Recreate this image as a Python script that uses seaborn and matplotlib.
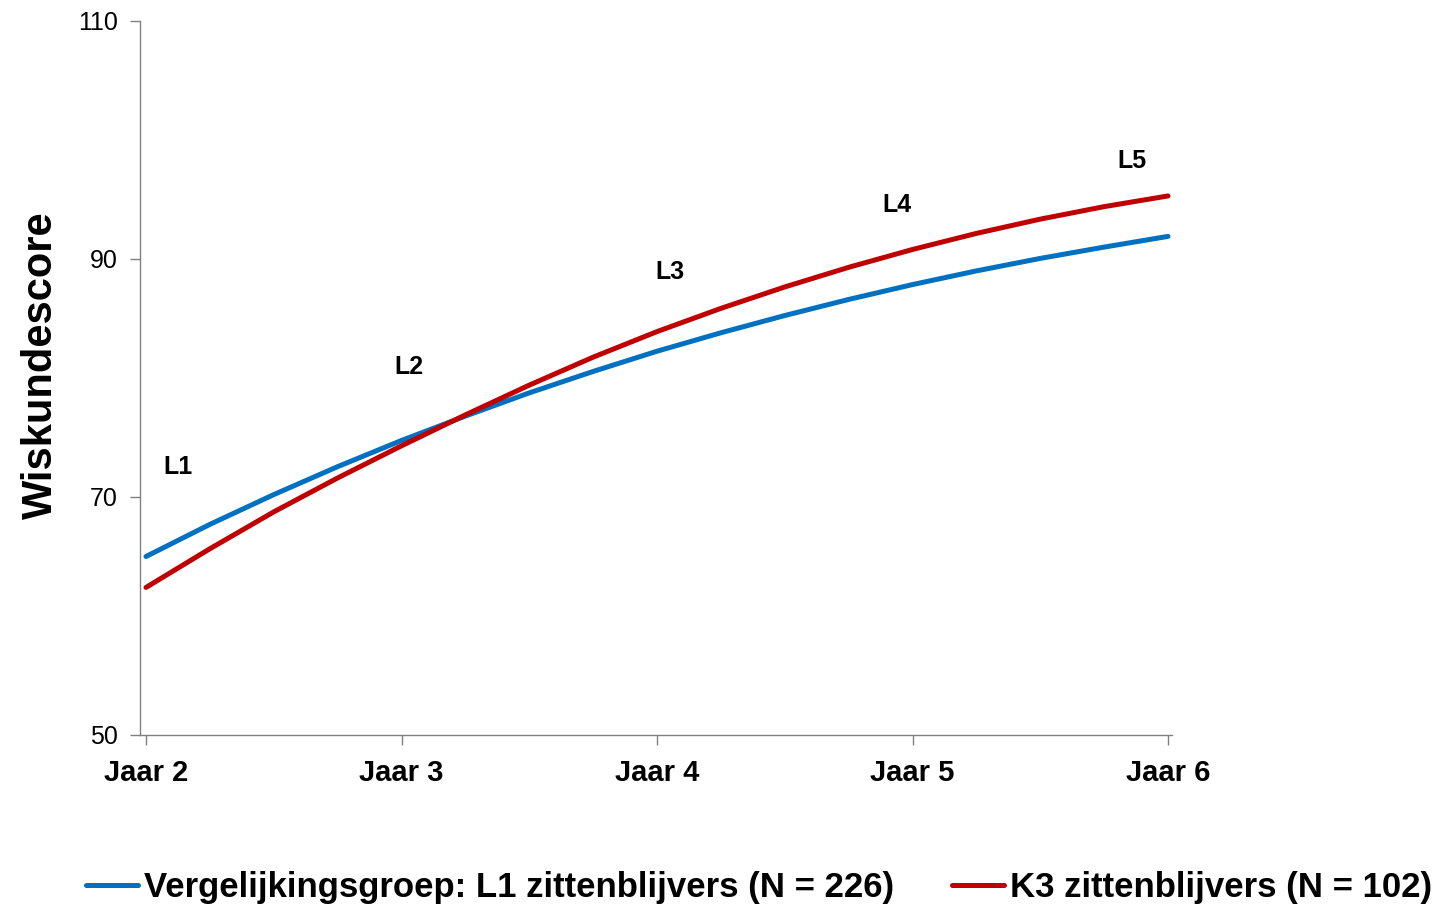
import matplotlib
matplotlib.use("Agg")
import matplotlib.pyplot as plt
import seaborn as sns
import pandas as pd
from matplotlib.lines import Line2D

# ---- data ----
years = [2.0, 2.25, 2.5, 2.75, 3.0, 3.25, 3.5, 3.75, 4.0, 4.25, 4.5, 4.75, 5.0, 5.25, 5.5, 5.75, 6.0]
vergelijking = [65.0, 67.7, 70.2, 72.55, 74.75, 76.8, 78.75, 80.55, 82.25, 83.8, 85.25, 86.6, 87.85, 89.0, 90.05, 91.0, 91.9]
k3 = [62.4, 65.65, 68.75, 71.6, 74.3, 76.9, 79.4, 81.75, 83.9, 85.85, 87.65, 89.3, 90.8, 92.15, 93.35, 94.4, 95.3]
series_names = ["Vergelijkingsgroep: L1 zittenblijvers (N = 226)", "K3 zittenblijvers (N = 102)"]
tick_pos = [2, 3, 4, 5, 6]
tick_labels = ["Jaar 2", "Jaar 3", "Jaar 4", "Jaar 5", "Jaar 6"]
ytick_vals = [50, 70, 90, 110]
level_labels = ["L1", "L2", "L3", "L4", "L5"]
level_x = [2.125, 3.03, 4.05, 4.94, 5.86]
level_y = [72.5, 80.9, 88.9, 94.5, 98.2]
colors = ["#0070C0", "#C00000"]

df = pd.DataFrame({
    "jaar": years + years,
    "score": vergelijking + k3,
    "groep": [series_names[0]] * len(years) + [series_names[1]] * len(years),
})

sns.set_style("ticks")
plt.rcParams["font.family"] = ["Liberation Sans", "DejaVu Sans"]
plt.rcParams["text.color"] = "black"
plt.rcParams["xtick.labelcolor"] = "black"
plt.rcParams["ytick.labelcolor"] = "black"

fig = plt.figure(figsize=(14.37, 9.09), dpi=100)
ax = fig.add_axes([140 / 1437, 1 - 735 / 909, (1172 - 140) / 1437, (735 - 21) / 909])

sns.lineplot(data=df, x="jaar", y="score", hue="groep", palette=colors,
             linewidth=3.6, ax=ax, legend=False, solid_capstyle="round")

ax.set_xlim(2 - 6 * 4 / 1022, 6 + 4 * 4 / 1022)
ax.set_ylim(50, 110)
ax.set_xticks(tick_pos)
ax.set_xticklabels(tick_labels, fontsize=21, fontweight="bold", color="black")
ax.set_yticks(ytick_vals)
ax.set_yticklabels([str(v) for v in ytick_vals], fontsize=18, color="black")
ax.tick_params(axis="both", direction="out", length=7, width=1, color="#808080")
ax.tick_params(axis="y", pad=9)
ax.tick_params(axis="x", pad=10)
for s in ["top", "right"]:
    ax.spines[s].set_visible(False)
for s in ["left", "bottom"]:
    ax.spines[s].set_color("#808080")
    ax.spines[s].set_linewidth(1)

ax.set_xlabel("")
ax.set_ylabel("Wiskundescore", fontsize=30, fontweight="bold", color="black")
ax.yaxis.set_label_coords(-0.0765, 0.518)

for lab, lx, ly in zip(level_labels, level_x, level_y):
    ax.text(lx, ly, lab, ha="center", va="center", fontsize=18, fontweight="bold",
            color="black")

handles = [Line2D([0], [0], color=c, lw=3.6, solid_capstyle="round") for c in colors]
fig.legend(handles, series_names, loc="center", bbox_to_anchor=(0.528, 1 - 888 / 909),
           ncol=2, frameon=False, handlelength=1.5, handletextpad=0.17, columnspacing=1.67,
           prop={"weight": "bold", "size": 25})

fig.savefig("out.png", dpi=100, facecolor="white")
